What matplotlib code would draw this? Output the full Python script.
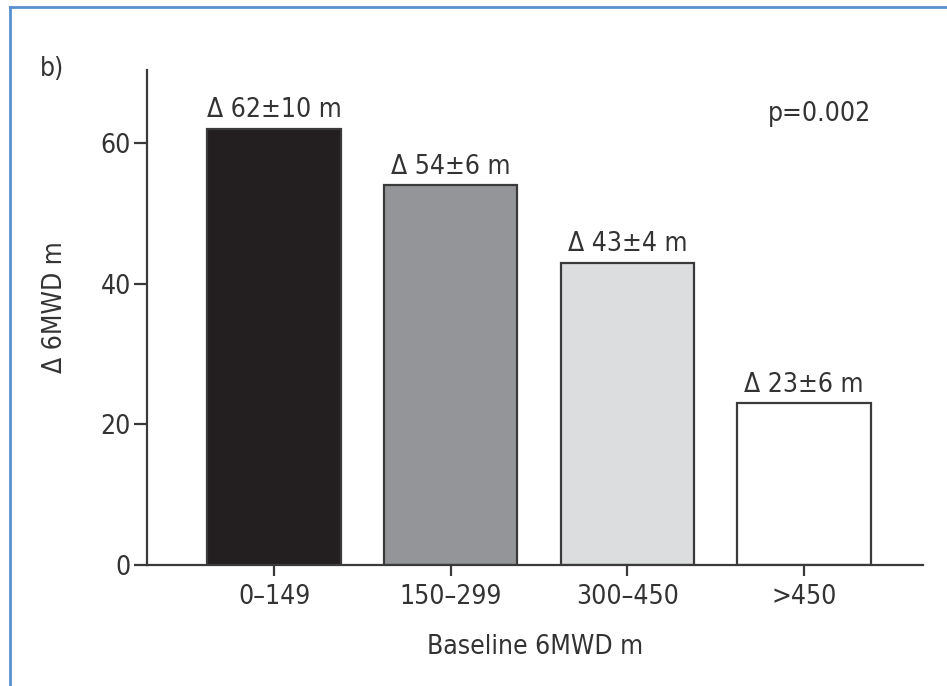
import matplotlib.pyplot as plt
from matplotlib.lines import Line2D

# 6MWD change by baseline walk distance
groups = ['0\u2013149', '150\u2013299', '300\u2013450', '>450']
delta = [62, 54, 43, 23]
sem = [10, 6, 4, 6]
fills = ['#231f20', '#939598', '#dcdddf', '#ffffff']
p_text = 'p=0.002'

ink = '#3a3a3a'
txt = '#333333'
plt.rcParams['font.family'] = 'DejaVu Sans'
plt.rcParams['font.stretch'] = 'condensed'

fig = plt.figure(figsize=(9.47, 6.86), dpi=100)
ax = fig.add_axes([0.1552, 0.1764, 0.8195, 0.7216])

x = range(len(groups))
bars = ax.bar(x, delta, width=0.755, color=fills, edgecolor=ink, linewidth=1.6, zorder=2)

for b, d, s in zip(bars, delta, sem):
    ax.annotate('\u0394 %d\u00b1%d m' % (d, s),
                xy=(b.get_x() + b.get_width() / 2, d),
                xytext=(0, 4), textcoords='offset points',
                ha='center', va='bottom', fontsize=19, color=txt)

ax.set_xlim(-0.72, 3.675)
ax.set_ylim(0, 70.4)
ax.set_yticks([0, 20, 40, 60])
ax.set_xticks(list(x))
ax.set_xticklabels(groups)

for side in ['top', 'right']:
    ax.spines[side].set_visible(False)
for side in ['left', 'bottom']:
    ax.spines[side].set_color(ink)
    ax.spines[side].set_linewidth(1.6)

ax.tick_params(axis='y', direction='out', length=9.5, width=1.6, color=ink,
               pad=2, labelsize=19, labelcolor=txt)
ax.tick_params(axis='x', direction='out', length=8, width=1.6, color=ink,
               pad=6, labelsize=19, labelcolor=txt)

ax.set_xlabel('Baseline 6MWD m', fontsize=19, color=txt, labelpad=17)
ax.set_ylabel('\u0394 6MWD m', fontsize=19, color=txt)
ax.yaxis.set_label_coords(-0.102, 0.521)

ax.text(0.8, 0.912, p_text, transform=ax.transAxes, fontsize=19, color=txt,
        ha='left', va='center')
fig.text(40 / 947, 1 - 69 / 686, 'b)', fontsize=19, color=txt, ha='left', va='center')

# panel frame (top and left edges)
frame = '#5b8fd0'
fig.add_artist(Line2D([9.5 / 947, 9.5 / 947], [0, 1 - 7 / 686], transform=fig.transFigure,
                      color=frame, linewidth=2))
fig.add_artist(Line2D([9.5 / 947, 1], [1 - 7 / 686, 1 - 7 / 686], transform=fig.transFigure,
                      color=frame, linewidth=2))

fig.savefig('out.png', dpi=100)
